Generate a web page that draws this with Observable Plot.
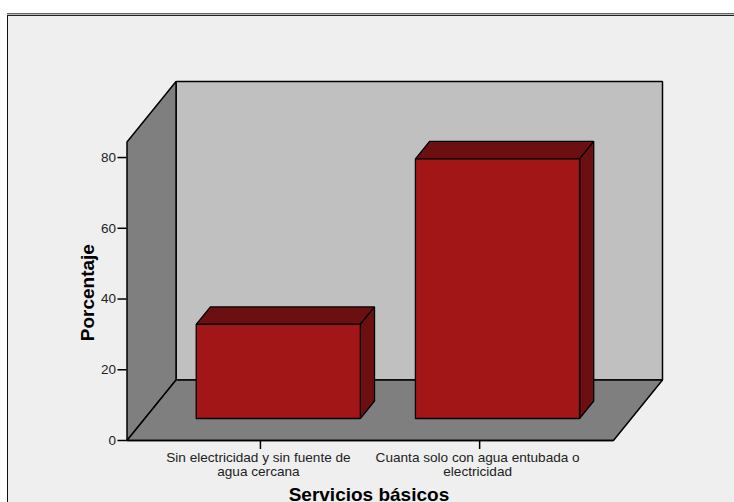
<!DOCTYPE html>
<html>
<head>
<meta charset="utf-8">
<script src="https://cdn.jsdelivr.net/npm/d3@7"></script>
<script src="https://cdn.jsdelivr.net/npm/@observablehq/plot@0.6"></script>
<style>
  html, body { margin: 0; padding: 0; background: #fff; overflow: hidden; }
  #panel { position: absolute; left: 7px; top: 16px; width: 727px; height: 486px; background: #efefef;
           border-left: 1.5px solid #111; box-sizing: border-box; }
  #rule { position: absolute; left: 7px; top: 13px; width: 727px; height: 3px;
          background: linear-gradient(#666 0 33%, #bbb 33% 66%, #222 66% 100%); }
  #chart { position: absolute; left: 0; top: 0; }
</style>
</head>
<body>
<div id="rule"></div>
<div id="panel"></div>
<div id="chart"></div>
<script>
// Values of the bar chart
const categories = ["Sin electricidad y sin fuente de\nagua cercana", "Cuanta solo con agua entubada o\nelectricidad"];
const porcentaje = [26.6, 73.4];
const yTicks = [0, 20, 40, 60, 80];
const yTitle = "Porcentaje";
const xTitle = "Servicios básicos";

// Oblique projection: depth 0 is the front of the box, depth 1 the back wall
const depthX = 0.2237;
const depthY = 17.1;
const xMin = -0.6087;
const xFront = 1.6105;
const xMax = xFront + depthX;
const yMax = 101.5;
const wallTop = yMax - depthY;
const barHalf = 0.3744;
const barDepth0 = 0.364;
const barDepth1 = 0.653;

const pt = (x, y, d) => ({ x: x + d * depthX, y: y + d * depthY });

const box = [
  { fill: "#c0c0c0", pts: [pt(xMin, 0, 1), pt(xFront, 0, 1), pt(xFront, wallTop, 1), pt(xMin, wallTop, 1)] },
  { fill: "#7f7f7f", pts: [pt(xMin, 0, 0), pt(xMin, 0, 1), pt(xMin, wallTop, 1), pt(xMin, wallTop, 0)] },
  { fill: "#7f7f7f", pts: [pt(xMin, 0, 0), pt(xFront, 0, 0), pt(xFront, 0, 1), pt(xMin, 0, 1)] }
];

const faces = porcentaje.flatMap((v, i) => {
  const l = i - barHalf, r = i + barHalf;
  return [
    { fill: "#6b0f11", pts: [pt(l, v, barDepth0), pt(r, v, barDepth0), pt(r, v, barDepth1), pt(l, v, barDepth1)] },
    { fill: "#6b0f11", pts: [pt(r, 0, barDepth0), pt(r, 0, barDepth1), pt(r, v, barDepth1), pt(r, v, barDepth0)] },
    { fill: "#a21618", pts: [pt(l, 0, barDepth0), pt(r, 0, barDepth0), pt(r, v, barDepth0), pt(l, v, barDepth0)] }
  ];
});

// One closed polygon per face, drawn back to front
const polygon = ({ fill, pts }, strokeWidth) =>
  Plot.line(pts, { x: "x", y: "y", curve: "linear-closed", fill, stroke: "#000", strokeWidth, strokeLinejoin: "miter" });

const plot = Plot.plot({
  width: 734,
  height: 502,
  marginLeft: 126.5,
  marginRight: 72,
  marginTop: 81,
  marginBottom: 62,
  style: { background: "transparent", fontFamily: "'Liberation Sans', Arial, sans-serif", color: "#222" },
  x: { domain: [xMin, xMax], axis: null },
  y: { domain: [0, yMax], axis: null },
  marks: [
    ...box.map(f => polygon(f, 1.5)),
    ...faces.map(f => polygon(f, 1.3)),
    Plot.ruleY([0], { x1: xMin, x2: xFront, stroke: "#000", strokeWidth: 1.5 }),
    Plot.axisY({
      ticks: yTicks, tickSize: 9, tickPadding: 2, fontSize: 13.5, label: null, anchor: "left",
      stroke: "#000", strokeWidth: 1.5, tickFormat: d => d
    }),
    // Tick marks under the box, then the two-line labels set slightly to their left
    Plot.axisX({
      ticks: [0, 1], tickSize: 9, label: null, anchor: "bottom", text: null,
      stroke: "#000", strokeWidth: 1.5, tickFormat: null
    }),
    Plot.axisX({
      ticks: [0, 1], tickSize: 0, tickPadding: 12, fontSize: 13.6, label: null, anchor: "bottom", lineHeight: 1.03,
      tickFormat: i => categories[i], textOverflow: null, lineAnchor: "top", dx: -2
    }),
    Plot.text([yTitle], {
      frameAnchor: "left", dx: -39, y: 41.8, rotate: -90, textAnchor: "middle", fontWeight: "bold", fontSize: 19, fill: "#000"
    }),
    Plot.text([xTitle], {
      x: 0.495, frameAnchor: "bottom", dy: 60, lineAnchor: "bottom", fontWeight: "bold", fontSize: 19, fill: "#000"
    })
  ]
});
document.getElementById("chart").append(plot);
</script>
</body>
</html>
